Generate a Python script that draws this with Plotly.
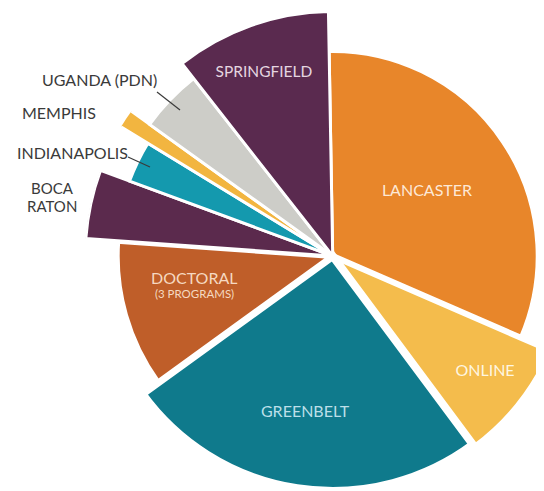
import plotly.graph_objects as go
import numpy as np

# ---- data ----
campuses = ["LANCASTER", "ONLINE", "GREENBELT", "DOCTORAL", "BOCA RATON",
            "INDIANAPOLIS", "MEMPHIS", "UGANDA (PDN)", "SPRINGFIELD"]
shares = [31.8, 8.3, 25.2, 11.1, 4.5, 3.1, 1.2, 4.5, 10.3]          # % of circle
radius_values = [204.5, 238, 235, 216, 247.5, 216.5, 275.5, 225.5, 244.5]

# ---- styles ----
colors = ["#E8862A", "#F4BC4C", "#0F7A8C", "#BF5E29", "#5B2A4D",
          "#1499AE", "#F2B540", "#CDCDC8", "#5A2A4F"]
gap_widths = [3, 6, 8, 6, 3, 3, 3, 3, 3]
start_angle = -1.0

OFF = 8                    # page body margin
W, H = 600, 520            # figure size (larger than the viewport)
CX, CY = 332.7 - OFF, 256.0 - OFF   # pie centre in figure pixels
R_PX = 248.0               # pixel radius of the polar frame

widths = np.array(shares) / sum(shares) * 360.0
starts = start_angle + np.concatenate([[0], np.cumsum(widths)[:-1]])
thetas = starts + widths / 2

fig = go.Figure()
fig.add_trace(go.Barpolar(
    r=radius_values, theta=thetas, width=widths,
    marker=dict(color=colors, line=dict(color="white", width=gap_widths)),
    hoverinfo="skip", showlegend=False,
))

# inside labels (polar positions)
in_text = ["SPRINGFIELD", "LANCASTER", "ONLINE", "GREENBELT", "DOCTORAL", "(3 PROGRAMS)"]
in_r = [195.5, 114, 191.5, 159.4, 140.5, 143.5]
in_theta = [339.4, 55.8, 127.3, 190.0, 260.2, 254.3]
in_size = [15.5, 16, 16, 16, 16, 11.5]
in_color = ["rgba(240,225,235,0.95)", "rgba(255,240,225,0.95)", "rgba(255,250,235,0.95)",
            "rgba(200,230,240,0.95)", "rgba(250,225,205,0.95)", "rgba(250,225,205,0.95)"]
fig.add_trace(go.Scatterpolar(
    r=in_r, theta=in_theta, text=in_text, mode="text",
    textfont=dict(family="Lato", size=in_size, color=in_color),
    hoverinfo="skip", showlegend=False,
))

def px(x):
    return (x - OFF) / W

def py(y):
    return 1 - (y - OFF) / H

out_labels = [("UGANDA (PDN)", 99.5, 80, 16), ("MEMPHIS", 59, 113, 16),
              ("INDIANAPOLIS", 72, 152, 16), ("BOCA", 52, 188, 15),
              ("RATON", 52, 206, 15)]
for txt, x, y, fs in out_labels:
    fig.add_annotation(x=px(x), y=py(y), xref="paper", yref="paper", text=txt,
                       showarrow=False, xanchor="center", yanchor="middle",
                       font=dict(family="Lato", size=fs, color="#3a3a3a"),
                       align="center")

for (x0, y0, x1, y1) in [(157, 92, 180, 110), (128, 157, 150, 167)]:
    fig.add_shape(type="line", xref="paper", yref="paper",
                  x0=px(x0), y0=py(y0), x1=px(x1), y1=py(y1),
                  line=dict(color="#3a3a3a", width=1.2))

fig.update_layout(
    width=W, height=H,
    margin=dict(l=0, r=0, t=0, b=0),
    paper_bgcolor="white", plot_bgcolor="white",
    polar=dict(
        domain=dict(x=[(CX - R_PX) / W, (CX + R_PX) / W],
                    y=[max(0, (H - CY - R_PX) / H), min(1, (H - CY + R_PX) / H)]),
        bgcolor="rgba(0,0,0,0)",
        radialaxis=dict(range=[0, R_PX], visible=False, showgrid=False),
        angularaxis=dict(direction="clockwise", rotation=90, visible=False,
                         showgrid=False),
        bargap=0,
    ),
)

fig.write_html("out.html")
